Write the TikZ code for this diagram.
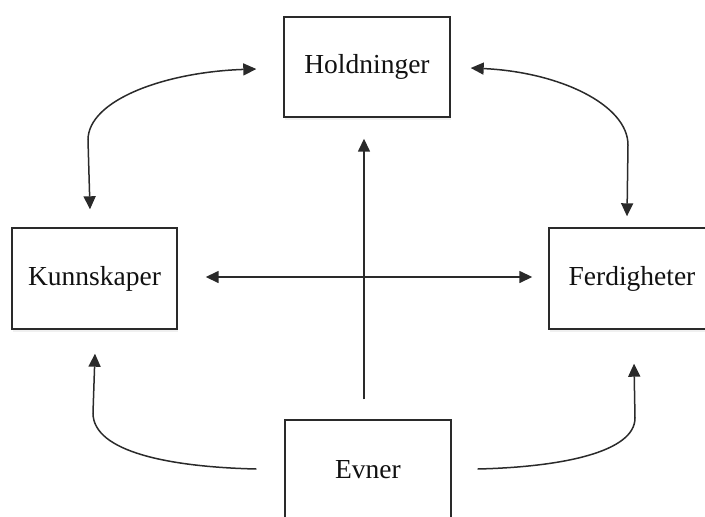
\documentclass[tikz,border=0pt]{standalone}
\usepackage{fontspec}
\setmainfont{Liberation Serif}
\usetikzlibrary{arrows.meta,shadows}

\definecolor{ink}{HTML}{111111}
\definecolor{linegray}{HTML}{2A2A2A}

\tikzset{
  conceptbox/.style={
    draw=linegray, line width=1.4pt, fill=white,
    minimum width=166pt, minimum height=100pt, inner sep=0pt,
    font=\fontsize{27.5}{30}\selectfont, text=ink,
    drop shadow={opacity=0.12, shadow xshift=1pt, shadow yshift=-2.5pt}
  },
  link/.style={
    draw=linegray, line width=1.5pt,
    -{Triangle[length=13pt,width=12pt]}
  },
  biglink/.style={
    draw=linegray, line width=1.5pt,
    {Triangle[length=13pt,width=12pt]}-{Triangle[length=13pt,width=12pt]}
  }
}

\begin{document}
\begin{tikzpicture}[x=1pt,y=-1pt]
  \useasboundingbox (0,0) rectangle (705,517);
  \clip (0,0) rectangle (705,517);

  % the four competence boxes
  \node[conceptbox] (H) at (367,67)    {Holdninger};
  \node[conceptbox, minimum width=165pt, minimum height=101pt] (K) at (94.5,278.5) {Kunnskaper};
  \node[conceptbox, minimum height=101pt] (F) at (632,278.5) {Ferdigheter};
  \node[conceptbox] (E) at (368,470)   {Evner};

  % end points of the connectors, offset from the boxes
  \coordinate (hw) at ([shift={(-27pt,-2pt)}]H.west);
  \coordinate (kn) at ([shift={(-4.5pt,18pt)}]K.north);
  \coordinate (he) at ([shift={(20pt,-1pt)}]H.east);
  \coordinate (fn) at ([shift={(-5pt,11pt)}]F.north);
  \coordinate (ks) at ([shift={(0.5pt,-24pt)}]K.south);
  \coordinate (ew) at ([shift={(-28pt,1pt)}]E.west);
  \coordinate (ee) at ([shift={(26pt,1pt)}]E.east);
  \coordinate (fs) at ([shift={(2pt,-34pt)}]F.south);
  \coordinate (en) at ([shift={(-4pt,20pt)}]E.north);
  \coordinate (hs) at ([shift={(-3pt,-21pt)}]H.south);
  \coordinate (ke) at ([shift={(28pt,1.5pt)}]K.east);
  \coordinate (fw) at ([shift={(-16pt,1.5pt)}]F.west);

  % upper arcs: Holdninger <-> Kunnskaper, Holdninger <-> Ferdigheter
  \draw[biglink] (hw) .. controls (165,72) and (88,100) .. (88,140) -- (kn);
  \draw[biglink] (he) .. controls (560,72) and (628,105) .. (628,145) -- (fn);

  % lower arcs from Evner
  \draw[link] (ew) .. controls (170,467) and (93,452) .. (93,413) -- (ks);
  \draw[link] (ee) .. controls (562,467) and (635,452) .. (635,418) -- (fs);

  % central cross
  \draw[link] (en) -- (hs);
  \draw[biglink] (ke) -- (fw);
\end{tikzpicture}
\end{document}
